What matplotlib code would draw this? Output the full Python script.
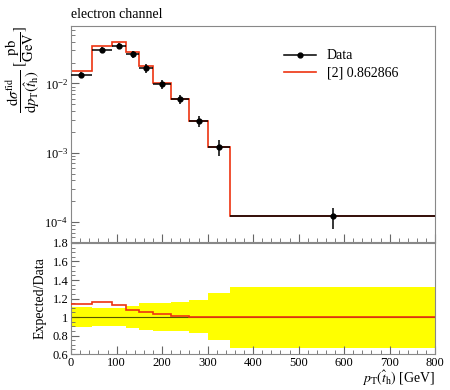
import numpy as np
import matplotlib
matplotlib.use('Agg')
import matplotlib.pyplot as plt
from matplotlib.lines import Line2D
from matplotlib.ticker import MultipleLocator, LogLocator, NullFormatter

plt.rcParams['font.family'] = ['Liberation Serif', 'DejaVu Serif']
plt.rcParams['mathtext.fontset'] = 'stix'
plt.rcParams['font.size'] = 9

# bins in pT(t_h) [GeV]
edges = [0, 45, 90, 120, 150, 180, 220, 260, 300, 350, 800]

# measured cross section [pb/GeV]
data = [0.0134, 0.0302, 0.0345, 0.0262, 0.0167, 0.0098, 0.0059, 0.00285, 0.00121, 0.000120]
# relative uncertainty of data (yellow band)
rel_up = [0.11, 0.10, 0.10, 0.12, 0.15, 0.155, 0.16, 0.18, 0.26, 0.33]
rel_dn = [0.11, 0.10, 0.10, 0.115, 0.14, 0.15, 0.155, 0.17, 0.25, 0.33]
# expected / data
ratio = [1.145, 1.167, 1.133, 1.078, 1.055, 1.03, 1.01, 1.0, 1.0, 1.0]

edges = np.array(edges)
data = np.array(data)
rel_up = np.array(rel_up)
rel_dn = np.array(rel_dn)
ratio = np.array(ratio)
model = data * ratio
centers = 0.5 * (edges[1:] + edges[:-1])
halfw = 0.5 * (edges[1:] - edges[:-1])

red = '#EE3311'

fig = plt.figure(figsize=(4.5, 3.9), dpi=100)
ax = fig.add_axes([0.158, 0.379, 0.809, 0.554])
rax = fig.add_axes([0.158, 0.092, 0.809, 0.285])

# main panel
ax.stairs(model, edges, baseline=None, color=red, lw=1.2, zorder=2)
ax.errorbar(centers, data, xerr=halfw, yerr=[data * rel_dn, data * rel_up],
            fmt='o', color='black', ms=3.5, lw=1.1, capsize=0, zorder=3)
ax.set_yscale('log')
ax.set_xlim(0, 800)
ax.set_ylim(5.1e-5, 0.0673)
ax.yaxis.set_major_locator(LogLocator(base=10, numticks=10))
ax.yaxis.set_minor_locator(LogLocator(base=10, subs=np.arange(2, 10), numticks=20))
ax.yaxis.set_minor_formatter(NullFormatter())
ax.xaxis.set_major_locator(MultipleLocator(100))
ax.xaxis.set_minor_locator(MultipleLocator(20))
ax.tick_params(axis='x', labelbottom=False)
ax.set_ylabel(r'$\dfrac{\mathrm{d}\sigma^{\mathrm{fid}}}{\mathrm{d}p_{\mathrm{T}}(\hat{t}_{\mathrm{h}})}$ $[\dfrac{\mathrm{pb}}{\mathrm{GeV}}]$',
              loc='top', fontsize=10.5, labelpad=2)
ax.set_title('electron channel', loc='left', fontsize=10, pad=6)

handles = [Line2D([], [], color='black', marker='o', ms=3.5, lw=1.1),
           Line2D([], [], color=red, lw=1.2)]
ax.legend(handles, ['Data', '[2] 0.862866'], loc='upper left', bbox_to_anchor=(0.55, 0.95),
          frameon=False, fontsize=10, handlelength=2.3, labelspacing=0.3)

# ratio panel
rax.stairs(1 + rel_up, edges, baseline=1 - rel_dn, fill=True, color='#ffff00', lw=0, zorder=1)
rax.axhline(1.0, color='#555500', lw=0.8, zorder=2)
rax.stairs(ratio, edges, baseline=None, color=red, lw=1.2, zorder=3)
rax.set_xlim(0, 800)
rax.set_ylim(0.6, 1.8)
rax.yaxis.set_minor_locator(MultipleLocator(0.05))
rax.xaxis.set_major_locator(MultipleLocator(100))
rax.xaxis.set_minor_locator(MultipleLocator(20))
rax.set_yticks([0.6, 0.8, 1.0, 1.2, 1.4, 1.6, 1.8])
rax.set_yticklabels(['0.6', '0.8', '1', '1.2', '1.4', '1.6', '1.8'])
rax.set_ylabel('Expected/Data', fontsize=10)
rax.set_xlabel(r'$p_{\mathrm{T}}(\hat{t}_{\mathrm{h}})$ [GeV]', loc='right', fontsize=10, labelpad=0)

for a in (ax, rax):
    for s in a.spines.values():
        s.set_color('#888888')
    a.tick_params(which='both', direction='in', color='#666666', labelsize=9, pad=2)
    a.tick_params(which='major', length=6)
    a.tick_params(which='minor', length=3)

fig.savefig('out.png', dpi=100)
